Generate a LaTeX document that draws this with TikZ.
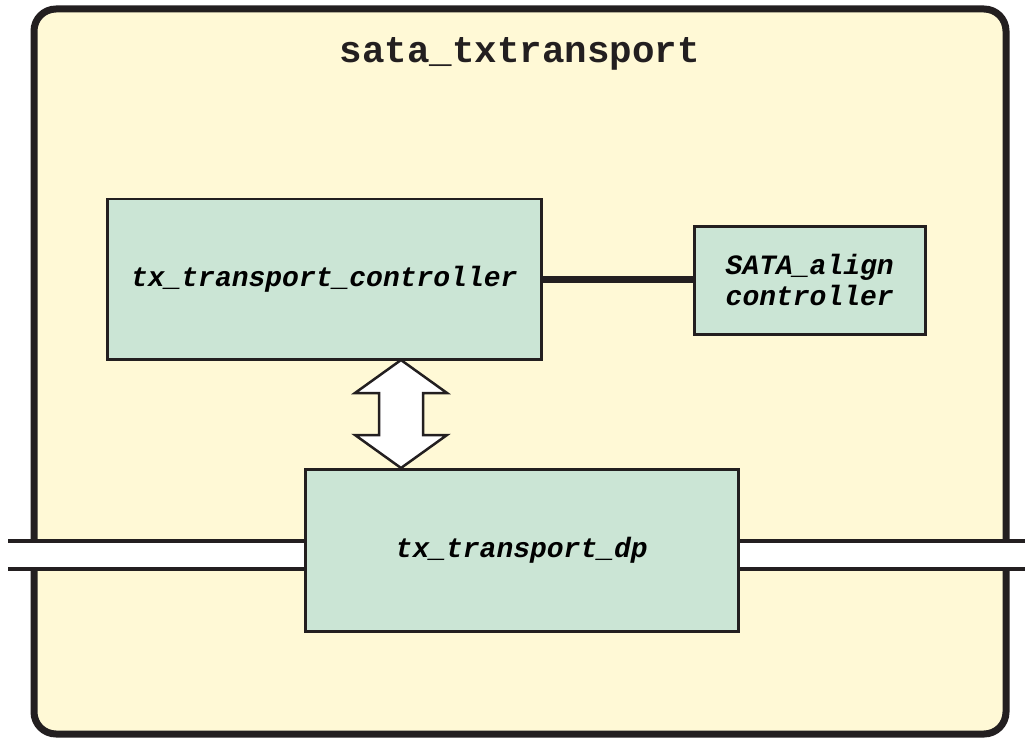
\documentclass[tikz,border=0pt]{standalone}
\usepackage{fontspec}
\setmonofont{Liberation Mono}
\definecolor{frame}{HTML}{231F20}
\definecolor{cream}{HTML}{FFF9D6}
\definecolor{mint}{HTML}{CBE5D5}
\begin{document}
\begin{tikzpicture}[x=1pt,y=-1pt,
  block/.style={draw=frame, line width=2.5pt, fill=mint, inner sep=0pt,
    font=\ttfamily\bfseries\itshape\fontsize{28}{31}\selectfont, align=center},
  busline/.style={draw=frame, line width=4.5pt}]
\useasboundingbox (0,0) rectangle (1025,738);
% outer module
\draw[frame, line width=7pt, fill=cream, rounded corners=22pt] (34,9) rectangle (1006,734);
\node[font=\ttfamily\bfseries\fontsize{37.5}{40}\selectfont, text=frame] (title) at (520,54) {sata\_txtransport};
% data path bus crossing the module
\fill[white] (8,541) rectangle (1025,569);
\draw[busline] (8,541) -- (305,541);
\draw[busline] (8,569) -- (305,569);
\draw[busline] (736,541) -- (1025,541);
\draw[busline] (736,569) -- (1025,569);
% blocks
\node[block, minimum width=434pt, minimum height=160pt, anchor=north west] (ctrl) at (106,198) {tx\_transport\_controller};
\node[block, minimum width=231pt, minimum height=108pt, anchor=north west] (align) at (693,225) {SATA\_align\\controller};
\node[block, minimum width=433pt, minimum height=162pt, anchor=north west] (dp) at (304,468) {tx\_transport\_dp};
% link between controllers
\draw[frame, line width=7pt] (ctrl.east |- 0,279) -- (align.west |- 0,279);
% two-way transfer arrow
\coordinate (atop) at (401,360);
\coordinate (abot) at (401,468);
\draw[frame, line width=2.5pt, fill=white, line join=miter]
  (atop) -- (447,393) -- (423,393) -- (423,435) -- (447,435) -- (abot)
  -- (355,435) -- (379,435) -- (379,393) -- (355,393) -- cycle;
\end{tikzpicture}
\end{document}
